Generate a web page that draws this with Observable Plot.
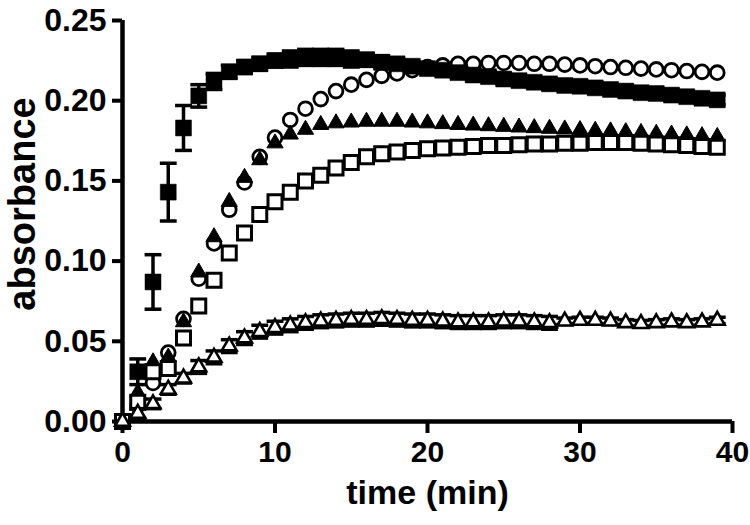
<!DOCTYPE html>
<html>
<head>
<meta charset="utf-8">
<script src="https://cdn.jsdelivr.net/npm/d3@7"></script>
<script src="https://cdn.jsdelivr.net/npm/@observablehq/plot@0.6"></script>
<style>
  html, body { margin: 0; padding: 0; background: #fff; }
</style>
</head>
<body>
<div id="chart"></div>
<script>
// ---- data ----
const time = [0,1,2,3,4,5,6,7,8,9,10,11,12,13,14,15,16,17,18,19,20,21,22,23,24,25,26,27,28,29,30,31,32,33,34,35,36,37,38,39];

const filledSquare = [0.000,0.031,0.087,0.143,0.183,0.203,0.212,0.218,0.221,0.223,0.225,0.226,0.227,0.227,0.227,0.226,0.2255,0.224,0.223,0.2215,0.220,0.219,0.2175,0.216,0.215,0.2135,0.2125,0.2115,0.2105,0.2095,0.209,0.208,0.207,0.206,0.205,0.2045,0.2035,0.2025,0.2015,0.2005];
const filledSquareErr = [0,0.008,0.017,0.018,0.014,0.007,0.005,0.004,0.004,0.004,0.004,0.005,0.005,0.005,0.005,0.005,0.004,0.004,0.003,0.003,0.003,0.003,0.003,0.003,0.003,0.003,0.003,0.003,0.003,0.003,0.003,0.003,0.003,0.003,0.003,0.003,0.003,0.003,0.003,0.003];

const openCircle = [0.000,0.010,0.024,0.043,0.064,0.089,0.111,0.132,0.149,0.165,0.177,0.188,0.195,0.201,0.206,0.210,0.213,0.2155,0.217,0.219,0.221,0.222,0.223,0.223,0.2235,0.2235,0.2235,0.223,0.223,0.2225,0.222,0.2215,0.221,0.2205,0.220,0.2195,0.219,0.2185,0.218,0.2175];

const filledTriangle = [0.000,0.018,0.037,0.040,0.062,0.093,0.115,0.137,0.152,0.163,0.1735,0.179,0.182,0.185,0.186,0.1865,0.187,0.187,0.187,0.1865,0.186,0.1855,0.185,0.1846,0.1842,0.1838,0.1834,0.183,0.1826,0.1822,0.1818,0.1814,0.181,0.1805,0.180,0.1795,0.179,0.1785,0.178,0.1775];

const openSquare = [0.000,0.012,0.031,0.033,0.052,0.072,0.088,0.105,0.1175,0.129,0.137,0.143,0.150,0.1535,0.158,0.1615,0.165,0.167,0.168,0.169,0.170,0.1705,0.171,0.1715,0.172,0.172,0.1725,0.173,0.173,0.1735,0.1735,0.174,0.174,0.174,0.1735,0.173,0.1725,0.172,0.1715,0.171];

const openTriangle = [0.000,0.005,0.011,0.020,0.027,0.034,0.040,0.047,0.052,0.056,0.0585,0.060,0.0615,0.0625,0.063,0.0635,0.0635,0.064,0.0635,0.063,0.063,0.0625,0.062,0.062,0.062,0.0625,0.0625,0.062,0.0615,0.0625,0.063,0.063,0.0625,0.0615,0.061,0.0615,0.062,0.0615,0.062,0.063];
const openTriangleErr = [0,0.003,0.003,0.003,0.003,0.004,0.004,0.004,0.004,0.004,0.004,0.004,0.004,0.004,0.004,0.004,0.004,0.004,0.004,0.004,0.004,0.004,0.004,0.004,0.004,0.004,0.004,0.004,0.004,0.002,0.002,0.002,0.002,0.002,0.002,0.002,0.002,0.002,0.002,0.002];

const xTicks = [0, 10, 20, 30, 40];
const yTicks = [0.00, 0.05, 0.10, 0.15, 0.20, 0.25];
const xTitle = "time (min)";
const yTitle = "absorbance";

// ---- tables ----
const rows = (vals, errs) => time.map((t, i) => ({t, v: vals[i], e: errs ? errs[i] : 0}));
const dSq = rows(filledSquare, filledSquareErr);
const dCi = rows(openCircle);
const dTf = rows(filledTriangle);
const dSo = rows(openSquare);
const dTo = rows(openTriangle, openTriangleErr);

// horizontal cap symbol for error bars
const capSymbol = {
  draw(ctx, size) {
    const w = Math.sqrt(size);
    ctx.moveTo(-w / 2, 0);
    ctx.lineTo(w / 2, 0);
  }
};

function errorBars(data) {
  const d = data.filter(r => r.e > 0);
  return [
    Plot.ruleX(d, {x: "t", y1: r => r.v - r.e, y2: r => r.v + r.e, stroke: "black", strokeWidth: 3.5}),
    Plot.dot(d, {x: "t", y: r => r.v + r.e, symbol: capSymbol, r: 9.5, stroke: "black", strokeWidth: 3.5, fill: "none"}),
    Plot.dot(d, {x: "t", y: r => r.v - r.e, symbol: capSymbol, r: 9.5, stroke: "black", strokeWidth: 3.5, fill: "none"})
  ];
}

const chart = Plot.plot({
  width: 750,
  height: 525,
  marginLeft: 122,
  marginRight: 18,
  marginTop: 20,
  marginBottom: 104,
  style: {fontFamily: "'Liberation Sans', Arial, sans-serif", fontWeight: "bold", background: "white", color: "black"},
  x: {domain: [0, 40]},
  y: {domain: [0, 0.25]},
  marks: [
    // axes
    Plot.axisY({ticks: yTicks, tickFormat: d3.format(".2f"), tickSize: 10, tickPadding: 6, strokeWidth: 4, fontSize: 32, fontWeight: "bold", label: null}),
    Plot.axisX({ticks: xTicks, tickFormat: d3.format("d"), tickSize: 12, tickPadding: 7, strokeWidth: 4, fontSize: 30, fontWeight: "bold", label: null}),
    Plot.ruleX([0], {y1: 0, y2: 0.25, stroke: "black", strokeWidth: 4.5}),
    Plot.ruleY([0], {x1: 0, x2: 40, stroke: "black", strokeWidth: 4.5}),
    Plot.text([xTitle], {frameAnchor: "bottom", dy: 82, fontSize: 34, fontWeight: "bold", fill: "black"}),
    Plot.text([yTitle], {frameAnchor: "left", textAnchor: "middle", dx: -100, dy: -17, rotate: -90, fontSize: 38, fontWeight: "bold", fill: "black"}),

    // open circles
    Plot.dot(dCi, {x: "t", y: "v", symbol: "circle", r: 6.9, stroke: "black", strokeWidth: 2.8, fill: "white"}),
    // filled squares with error bars
    ...errorBars(dSq),
    Plot.dot(dSq, {x: "t", y: "v", symbol: "square", r: 9.0, fill: "black", stroke: "black", strokeWidth: 0.5}),
    // filled triangles
    Plot.dot(dTf, {x: "t", y: "v", symbol: "triangle", r: 6.0, fill: "black", stroke: "black", strokeWidth: 1}),
    // open squares
    Plot.dot(dSo, {x: "t", y: "v", symbol: "square", r: 7.9, stroke: "black", strokeWidth: 3, fill: "white"}),
    // open triangles with error bars
    ...errorBars(dTo),
    Plot.dot(dTo, {x: "t", y: "v", symbol: "triangle", r: 5.5, stroke: "black", strokeWidth: 2.6, fill: "white", strokeLinejoin: "miter"})
  ]
});

document.getElementById("chart").appendChild(chart);
</script>
</body>
</html>
